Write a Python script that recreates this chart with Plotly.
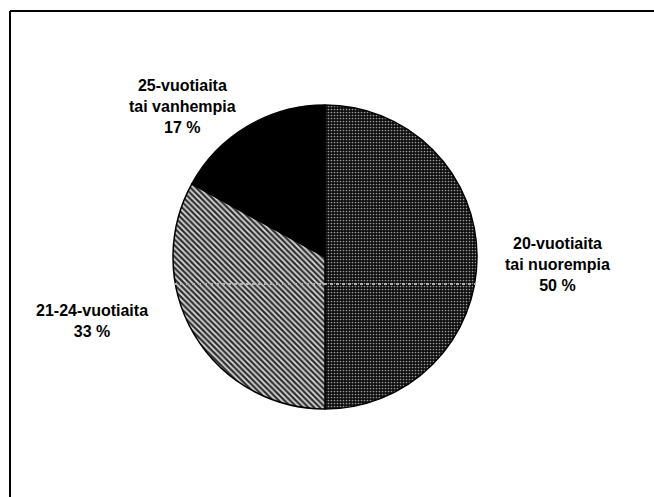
import plotly.graph_objects as go

categories = ["20-vuotiaita tai nuorempia", "21-24-vuotiaita", "25-vuotiaita tai vanhempia"]
values = [50, 33, 17]
label_lines = [
    ["20-vuotiaita", "tai nuorempia", "50 %"],
    ["21-24-vuotiaita", "33 %"],
    ["25-vuotiaita", "tai vanhempia", "17 %"],
]

W, H = 654, 497
cx, cy, r = 325, 257, 152

fig = go.Figure()
fig.add_trace(go.Pie(
    labels=categories,
    values=values,
    sort=False,
    direction="clockwise",
    rotation=0,
    textinfo="none",
    hoverinfo="label+percent",
    showlegend=False,
    domain=dict(x=[(cx - r) / W, (cx + r) / W], y=[(H - cy - r) / H, (H - cy + r) / H]),
    marker=dict(
        colors=["#222222", "#7a7a7a", "#000000"],
        line=dict(color="#000000", width=1.5),
        pattern=dict(
            shape=[".", "\\", ""],
            fgcolor=["#9a9a9a", "#dcdcdc", "#000000"],
            bgcolor=["#0d0d0d", "#2e2e2e", "#000000"],
            size=[3, 4, 4],
            solidity=[0.25, 0.45, 0.1],
        ),
    ),
))

font = dict(family="Liberation Sans, Arial, sans-serif", size=16, color="#000000")
positions = [(557, 264), (92, 321), (182, 107)]
for lines, (x, y) in zip(label_lines, positions):
    fig.add_annotation(
        x=x / W, y=1 - y / H, xref="paper", yref="paper",
        text="<br>".join("<b>%s</b>" % s for s in lines),
        showarrow=False, align="center", font=font,
        xanchor="center", yanchor="middle",
    )

# frame (scanned page border: top and left edges)
fig.add_shape(type="line", xref="paper", yref="paper",
              x0=10 / W, x1=1, y0=1 - 11 / H, y1=1 - 11 / H,
              line=dict(color="#000000", width=2))
fig.add_shape(type="line", xref="paper", yref="paper",
              x0=10 / W, x1=10 / W, y0=0, y1=1 - 11 / H,
              line=dict(color="#000000", width=2))
# faint scan line across the pie
fig.add_shape(type="line", xref="paper", yref="paper",
              x0=(cx - r + 1) / W, x1=(cx + r - 1) / W, y0=1 - 284 / H, y1=1 - 284 / H,
              line=dict(color="#b0b0b0", width=2, dash="dot"))

fig.update_layout(
    width=W, height=H,
    margin=dict(l=0, r=0, t=0, b=0),
    paper_bgcolor="#ffffff",
    plot_bgcolor="#ffffff",
)

fig.write_html("out.html", config={"displayModeBar": False},
               post_script="document.body.style.margin='0';")
